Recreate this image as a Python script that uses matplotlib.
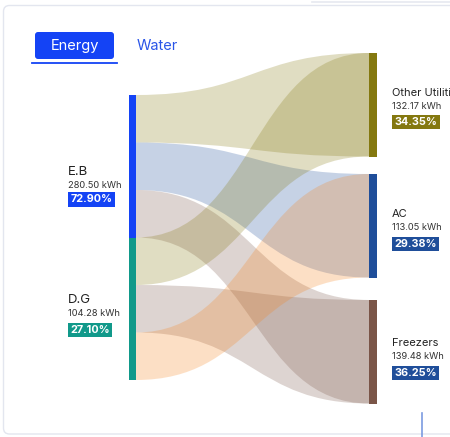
import matplotlib
matplotlib.use("Agg")
import matplotlib.pyplot as plt
from matplotlib.path import Path
from matplotlib.patches import PathPatch, FancyBboxPatch, Rectangle

plt.rcParams['font.family'] = ['Inter', 'DejaVu Sans']

# ===== data =====
sources = ['E.B', 'D.G']
source_kwh = [280.50, 104.28]
source_pct = [72.90, 27.10]
source_colors = ['#1443f5', '#11998a']

targets = ['Other Utilities', 'AC', 'Freezers']
target_kwh = [132.17, 113.05, 139.48]
target_pct = [34.35, 29.38, 36.25]
target_colors = ['#84780f', '#1f4e9a', '#7a5548']
target_badge = ['#84780f', '#1f4e9a', '#1f4e9a']

# links in drawing order within each source: (source, target, colour)
links = [
    ('E.B', 'Other Utilities', '#84780f'),
    ('E.B', 'AC', '#1f4e9a'),
    ('E.B', 'Freezers', '#7a5548'),
    ('D.G', 'Other Utilities', '#84780f'),
    ('D.G', 'Freezers', '#7a5548'),
    ('D.G', 'AC', '#f7831b'),
]

# ===== layout (pixel coords) =====
W, H = 450, 437
left_x0, left_x1 = 129, 136
right_x0, right_x1 = 369, 377
left_top, left_h = 95, 142.5
right_tops = [53, 174, 300]
right_h = 103.5

fig = plt.figure(figsize=(W / 100, H / 100), dpi=100)
ax = fig.add_axes([0, 0, 1, 1])
ax.set_xlim(0, W)
ax.set_ylim(H, 0)
ax.axis('off')

# card
ax.add_patch(FancyBboxPatch((3.5, 5.5), 470, 428.5, boxstyle='round,pad=0,rounding_size=6',
                            facecolor='white', edgecolor='#e3e6ef', lw=1))
ax.plot([312, 450], [1.5, 1.5], color='#e6e9f0', lw=1.2)
ax.plot([422, 422], [413, 437], color='#7b9be0', lw=1.2)

# tabs
ax.add_patch(FancyBboxPatch((35, 32), 79, 27, boxstyle='round,pad=0,rounding_size=3',
                            facecolor='#1443f5', edgecolor='none'))
ax.text(74.5, 46, 'Energy', color='white', fontsize=10.5, ha='center', va='center')
ax.plot([32, 117], [62.5, 62.5], color='#1443f5', lw=1.3)
ax.text(137, 46, 'Water', color='#2a55e8', fontsize=10.5, ha='left', va='center')

# node positions
src_pos = {s: (left_top + i * left_h, left_h) for i, s in enumerate(sources)}
tgt_pos = {t: (right_tops[i], right_h) for i, t in enumerate(targets)}

# links: each takes an equal slice of the source, spreads over the whole target
counts = {s: sum(1 for l in links if l[0] == s) for s in sources}
used = {s: 0 for s in sources}
for s, t, c in links:
    sy, sh = src_pos[s]
    band = sh / counts[s]
    s0 = sy + used[s] * band
    s1 = s0 + band
    used[s] += 1
    t0, th = tgt_pos[t]
    t1 = t0 + th
    xm = (left_x1 + right_x0) / 2
    verts = [(left_x1, s0), (xm, s0), (xm, t0), (right_x0, t0),
             (right_x0, t1), (xm, t1), (xm, s1), (left_x1, s1), (left_x1, s0)]
    codes = [Path.MOVETO, Path.CURVE4, Path.CURVE4, Path.CURVE4,
             Path.LINETO, Path.CURVE4, Path.CURVE4, Path.CURVE4, Path.CLOSEPOLY]
    ax.add_patch(PathPatch(Path(verts, codes), facecolor=c, edgecolor='none', alpha=0.25))

# nodes
for s, col in zip(sources, source_colors):
    y, h = src_pos[s]
    ax.add_patch(Rectangle((left_x0, y), left_x1 - left_x0, h, facecolor=col, edgecolor='none'))
for t, col in zip(targets, target_colors):
    y, h = tgt_pos[t]
    ax.add_patch(Rectangle((right_x0, y), right_x1 - right_x0, h, facecolor=col, edgecolor='none'))


def node_label(x, y, name, kwh, pct, col, name_size, badge_dy):
    ax.text(x, y, name, fontsize=name_size, color='#222222', ha='left', va='center')
    ax.text(x, y + 13.5, f'{kwh:.2f} kWh', fontsize=6.7, color='#333333', ha='left', va='center')
    ax.text(x + 2.5, y + badge_dy, f'{pct:.2f}%', fontsize=7.8, color='white', fontweight='bold',
            ha='left', va='center',
            bbox=dict(boxstyle='square,pad=0.2', facecolor=col, edgecolor='none'))


node_label(68, 172, sources[0], source_kwh[0], source_pct[0], source_colors[0], 9.5, 27.5)
node_label(68, 300, sources[1], source_kwh[1], source_pct[1], source_colors[1], 9.5, 30)
label_y = [93, 214, 343]
badge_dy = [29, 30, 30]
for i, t in enumerate(targets):
    node_label(392, label_y[i], t, target_kwh[i], target_pct[i], target_badge[i], 8, badge_dy[i])

fig.savefig('out.png', dpi=100)
